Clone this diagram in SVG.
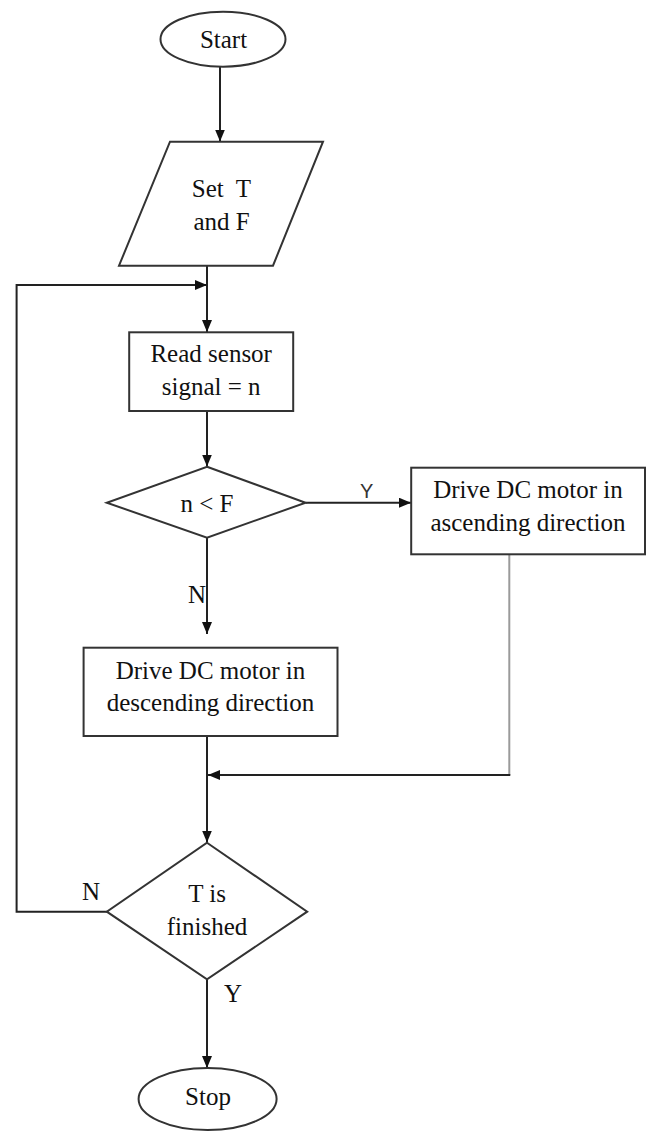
<svg xmlns="http://www.w3.org/2000/svg" width="646" height="1131" viewBox="0 0 646 1131">
<style>
.shape{fill:#fff;stroke:#333;stroke-width:2}
.t{font-family:"Liberation Serif","Times New Roman",serif;font-size:25px;fill:#111;text-anchor:middle;white-space:pre}
.lbl{font-family:"Liberation Serif","Times New Roman",serif;font-size:25px;fill:#111}
.ysans{font-family:"Liberation Sans",Arial,sans-serif;font-size:20px;fill:#333}
.c{fill:none;stroke:#222;stroke-width:2}
.g{fill:none;stroke:#9a9a9a;stroke-width:2}
</style>
<defs>
<marker id="ah" markerUnits="userSpaceOnUse" markerWidth="12" markerHeight="10" refX="12" refY="5" orient="auto">
<path d="M0,0 L12,5 L0,10 z" fill="#111"/>
</marker>
</defs>
<rect width="646" height="1131" fill="#fff"/>
<g id="connectors">
<line class="c" x1="220" y1="67" x2="220" y2="141.5" marker-end="url(#ah)"/>
<line class="c" x1="207" y1="266" x2="207" y2="332" marker-end="url(#ah)"/>
<path class="c" d="M107,911.7 H16.6 V285 H207" marker-end="url(#ah)"/>
<line class="c" x1="207" y1="411" x2="207" y2="466.5" marker-end="url(#ah)"/>
<line class="c" x1="305.6" y1="502.7" x2="411" y2="502.7" marker-end="url(#ah)"/>
<line class="c" x1="207" y1="538" x2="207" y2="634" marker-end="url(#ah)"/>
<line class="c" x1="207" y1="736" x2="207" y2="842.5" marker-end="url(#ah)"/>
<line class="g" x1="509.3" y1="554.5" x2="509.3" y2="775"/>
<line class="c" x1="510.3" y1="775" x2="208" y2="775" marker-end="url(#ah)"/>
<line class="c" x1="207" y1="979.5" x2="207" y2="1068" marker-end="url(#ah)"/>
<text class="ysans" x="360" y="498">Y</text>
<text class="lbl" x="188" y="603">N</text>
<text class="lbl" x="82" y="900">N</text>
<text class="lbl" x="224" y="1002">Y</text>
</g>
<g id="start">
<ellipse class="shape" cx="223" cy="39.2" rx="62.5" ry="27.5"/>
<text class="t" x="223.5" y="48">Start</text>
</g>
<g id="set">
<polygon class="shape" points="170,141.7 323,141.7 273,265.7 119,265.7"/>
<text class="t" x="221.5" y="197">Set  T</text>
<text class="t" x="221.5" y="230">and F</text>
</g>
<g id="read">
<rect class="shape" x="129.2" y="332.3" width="164" height="78.7"/>
<text class="t" x="211.2" y="362">Read sensor</text>
<text class="t" x="211.2" y="395">signal = n</text>
</g>
<g id="cmp">
<polygon class="shape" points="207,466.7 305.6,502.7 207,537.7 106.8,502.7"/>
<text class="t" x="207" y="511.5">n &lt; F</text>
</g>
<g id="asc">
<rect class="shape" x="411.2" y="467.7" width="233.8" height="86.6"/>
<text class="t" x="528" y="498.3">Drive DC motor in</text>
<text class="t" x="528" y="530.5">ascending direction</text>
</g>
<g id="desc">
<rect class="shape" x="83.6" y="647.7" width="253.9" height="88.3"/>
<text class="t" x="210.5" y="678.5">Drive DC motor in</text>
<text class="t" x="210.5" y="711">descending direction</text>
</g>
<g id="done">
<polygon class="shape" points="207,842.7 307.2,911.7 207,979.3 106.8,911.7"/>
<text class="t" x="207" y="901.7">T is</text>
<text class="t" x="207" y="935">finished</text>
</g>
<g id="stop">
<ellipse class="shape" cx="207.6" cy="1099" rx="69" ry="31"/>
<text class="t" x="208" y="1105">Stop</text>
</g>
</svg>
